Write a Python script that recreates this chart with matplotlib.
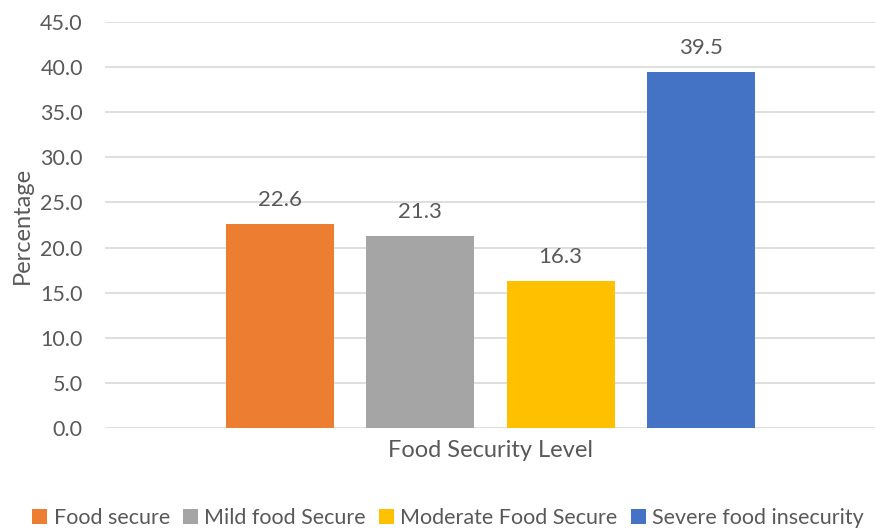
import numpy as np
import matplotlib.pyplot as plt
from matplotlib.patches import Patch

levels = ['Food secure', 'Mild food Secure', 'Moderate Food Secure', 'Severe food insecurity']
pct = [22.6, 21.3, 16.3, 39.5]
colors = ['#ED7D31', '#A5A5A5', '#FFC000', '#4472C4']
yticks = [0, 5, 10, 15, 20, 25, 30, 35, 40, 45]

plt.rcParams['font.family'] = ['Lato', 'DejaVu Sans']
txt = '#595959'

fig = plt.figure(figsize=(8.75, 5.31), dpi=100)
ax = fig.add_axes([0.12, 0.194, 0.881, 0.7646])

x = np.arange(len(pct))
ax.bar(x, pct, width=0.77, color=colors, zorder=3)
for xi, v in zip(x, pct):
    ax.annotate('%.1f' % v, (xi, v), xytext=(0, 10), textcoords='offset points',
                ha='center', va='bottom', fontsize=16, color=txt)

ax.set_xlim(-1.247, 4.247)
ax.set_ylim(0, 45)
ax.set_yticks(yticks)
ax.set_yticklabels(['%.1f' % t for t in yticks])
ax.set_xticks([])
ax.grid(axis='y', color='#D9D9D9', linewidth=1.2, zorder=0)
for s in ax.spines.values():
    s.set_visible(False)
ax.tick_params(axis='y', length=0, pad=16, labelsize=15.5, labelcolor=txt)

# axis titles
fig.text(22 / 875, 1 - 225 / 531, 'Percentage', rotation=90, ha='center', va='center',
         fontsize=17, color=txt)
ax.set_xlabel('Food Security Level', fontsize=17, color=txt, labelpad=9)

handles = [Patch(facecolor=c) for c in colors]
fig.legend(handles, levels, loc='center', bbox_to_anchor=(448 / 875, 1 - 518 / 531), ncol=4,
           frameon=False, fontsize=15.5, handlelength=0.7, handleheight=0.7,
           handletextpad=0.3, columnspacing=0.6, labelcolor=txt)

fig.savefig('out.png', dpi=100)
